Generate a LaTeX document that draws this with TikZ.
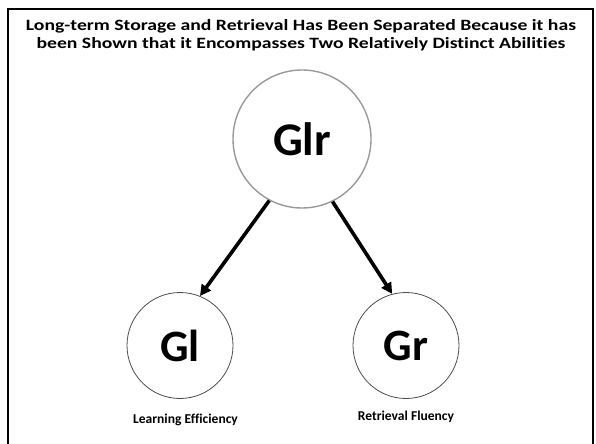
\documentclass[tikz,border=0pt]{standalone}
\usepackage{fontspec}
\setmainfont{Carlito}[Ligatures={NoCommon}]
\usetikzlibrary{arrows.meta}
\begin{document}
\begin{tikzpicture}[x=1bp,y=-1bp,
  frame/.style={line width=2.2bp,black},
  title/.style={font=\bfseries\fontsize{15.8}{18.3}\selectfont,align=center,inner sep=0pt,
                xscale=1.25,transform shape},
  bigball/.style={circle,draw=black!40,line width=1.4bp,minimum size=138bp,inner sep=0pt,
                  font=\bfseries\fontsize{47}{47}\selectfont},
  ball/.style={circle,draw=black!70,line width=0.8bp,minimum size=106bp,inner sep=0pt,
               font=\bfseries\fontsize{45}{45}\selectfont},
  caption/.style={font=\bfseries\fontsize{13.6}{16}\selectfont,inner sep=0pt,anchor=base},
  link/.style={line width=3.6bp,-{Triangle[length=11bp,width=11bp]}}]
\useasboundingbox (0,0) rectangle (596,444);
% outer frame (open at the bottom)
\draw[frame] (8,450) -- (8,9) -- (593,9) -- (593,450);
% heading
\node[title] (head) at (301,35) {Long-term Storage and Retrieval Has Been Separated Because it has\\been Shown that it Encompasses Two Relatively Distinct Abilities};
% ability nodes
\node[bigball] (glr) at (302,139) {Glr};
\node[ball] (gl) at (180,345.5) {Gl};
\node[ball] (gr) at (406,345.5) {Gr};
\node[caption] (lgl) at (185.5,423) {Learning Efficiency};
\node[caption] (lgr) at (406,420.7) {Retrieval Fluency};
% links
\draw[link] (glr.242) -- (gl.68);
\draw[link] (glr.296) -- (gr.105);
\end{tikzpicture}
\end{document}
